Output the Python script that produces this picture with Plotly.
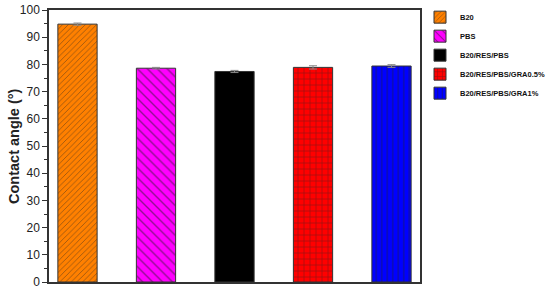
import plotly.graph_objects as go

samples = ["B20", "PBS", "B20/RES/PBS", "B20/RES/PBS/GRA0.5%", "B20/RES/PBS/GRA1%"]
contact_angle = [94.8, 78.6, 77.4, 78.9, 79.4]
errors = [0.4, 0.3, 0.4, 0.6, 0.5]
colors = ["#FF8000", "#FF00FF", "#000000", "#FF0000", "#0000FF"]
patterns = ["/", "\\", "", "+", "|"]
pattern_sizes = [4, 7, 6, 6, 5.5]

fig = go.Figure()
for i, name in enumerate(samples):
    fig.add_trace(go.Bar(
        x=[i], y=[contact_angle[i]], name=name, width=0.5,
        marker=dict(color=colors[i], line=dict(color="#333333", width=1),
                    pattern=dict(shape=patterns[i], fgcolor="#222222", size=pattern_sizes[i],
                                 solidity=0.2, fillmode="overlay")),
        error_y=dict(type="data", array=[errors[i]], color="#888888", thickness=1, width=4),
    ))

fig.update_layout(
    width=550, height=292,
    margin=dict(l=49, r=130, t=10, b=10, autoexpand=False),
    plot_bgcolor="white", paper_bgcolor="white",
    font=dict(family="Arial, Liberation Sans", color="#222222"),
    showlegend=True,
    legend=dict(x=1.0, y=1.027, xanchor="left", yanchor="top",
                font=dict(size=7.5, family="Arial, Liberation Sans", color="#111111", weight="bold"),
                bgcolor="rgba(0,0,0,0)", tracegroupgap=0, itemwidth=30),
    bargap=0.5,
    annotations=[dict(text="<b>Contact angle (°)</b>", xref="paper", yref="paper",
                      x=-49/371, y=0.5, xanchor="left", yanchor="middle", xshift=4,
                      textangle=-90, showarrow=False,
                      font=dict(size=14.5, color="#222222", family="Arial, Liberation Sans"))],
)
fig.update_xaxes(range=[-0.363, 4.363], showticklabels=False, ticks="", showgrid=False,
                 showline=True, linecolor="#333333", linewidth=1.5, mirror=True, zeroline=False)
fig.update_yaxes(range=[0, 100], dtick=10, ticks="outside", ticklen=5, tickwidth=1,
                 tickcolor="#333333", showgrid=False, showline=True, linecolor="#333333",
                 linewidth=1.5, mirror=True, zeroline=False, automargin=False,
                 minor=dict(dtick=5, ticks="outside", ticklen=3, tickcolor="#333333"),
                 tickfont=dict(size=12, color="#222222"))

fig.write_html("out.html", config={"displayModeBar": False},
               post_script="document.body.style.margin='0';document.body.style.overflow='hidden';")
